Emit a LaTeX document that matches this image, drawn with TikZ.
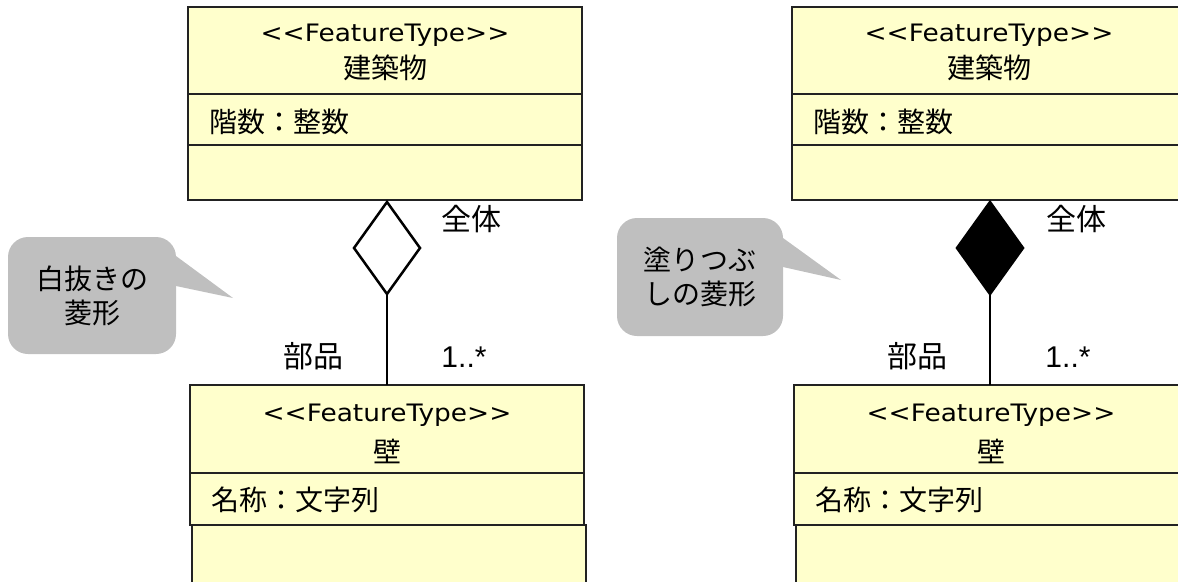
\documentclass[tikz,border=0pt]{standalone}
\usepackage{fontspec}
\setmainfont{DejaVu Sans}
\newfontfamily\jp{Noto Sans CJK JP}
\newfontfamily\lat[FakeStretch=1.1]{DejaVu Sans}
\newfontfamily\arial{Liberation Sans}
\usetikzlibrary{shapes.geometric}
\definecolor{boxfill}{RGB}{255,255,204}
\definecolor{boxline}{RGB}{34,34,34}
\definecolor{notegray}{RGB}{191,191,191}

\tikzset{
  every node/.style={inner sep=0pt, outer sep=0pt},
  comp/.style={draw=boxline, fill=boxfill, line width=2pt, anchor=north west, minimum width=394pt},
  stereo/.style={font=\lat\fontsize{24}{28}\selectfont},
  jptext/.style={font=\jp\fontsize{28}{34}\selectfont},
  roletext/.style={font=\jp\fontsize{30}{34}\selectfont},
  attrtext/.style={jptext, anchor=west},
  mult/.style={font=\arial\fontsize{30}{34}\selectfont},
  aggr/.style={diamond, draw=black, line width=2.5pt, minimum width=66pt, minimum height=92pt},
  assoc/.style={draw=black, line width=2.5pt},
  notebox/.style={fill=notegray, rounded corners=20pt, align=center, jptext},
}

\begin{document}
\begin{tikzpicture}[x=1pt, y=-1pt]
\useasboundingbox (0,0) rectangle (1178,581);
\clip (0,0) rectangle (1178,581);

% ---------- left: shared aggregation (hollow diamond) ----------
\node[comp, minimum height=87pt] (bA) at (188,7) {};
\node[comp, minimum height=51pt] (bAattr) at (bA.south west) {};
\node[comp, minimum height=55pt] (bAops) at (bAattr.south west) {};
\node[stereo] (bAst) at (385,35) {<<FeatureType>>};
\node[jptext] (bAnm) at (385,68) {建築物};
\node[attrtext] (bAat) at (209,122) {階数：整数};

\node[comp, minimum height=88pt] (wA) at (190,385) {};
\node[comp, minimum height=52pt] (wAattr) at (wA.south west) {};
\node[comp, minimum height=80pt] (wAops) at ([xshift=2pt]wAattr.south west) {};
\node[stereo] (wAst) at (387,415) {<<FeatureType>>};
\node[jptext] (wAnm) at (387,451) {壁};
\node[attrtext] (wAat) at (211,500) {名称：文字列};

\node[aggr, fill=white] (dA) at (387,248) {};
\draw[assoc] (dA.south) -- (dA.south |- wA.north);
\node[roletext] (wholeA) at (471,219) {全体};
\node[roletext] (partA) at (313,356) {部品};
\node[mult] (multA) at (464,357) {1..*};

\node[notebox, minimum width=168pt, minimum height=117pt] (noteA) at (92,295.5) {白抜きの\\菱形};
\coordinate (tipA) at (233,298);
\fill[notegray] ([yshift=9.5pt]noteA.east) ++(-6,0) -- ++(6,0) -- (tipA) -- ([yshift=39.5pt]noteA.east) -- ++(-6,0) -- cycle;

% ---------- right: composition (filled diamond) ----------
\node[comp, minimum height=87pt] (bB) at (792,7) {};
\node[comp, minimum height=51pt] (bBattr) at (bB.south west) {};
\node[comp, minimum height=55pt] (bBops) at (bBattr.south west) {};
\node[stereo] (bBst) at (989,35) {<<FeatureType>>};
\node[jptext] (bBnm) at (989,68) {建築物};
\node[attrtext] (bBat) at (813,122) {階数：整数};

\node[comp, minimum height=88pt] (wB) at (794,385) {};
\node[comp, minimum height=52pt] (wBattr) at (wB.south west) {};
\node[comp, minimum height=80pt] (wBops) at ([xshift=2pt]wBattr.south west) {};
\node[stereo] (wBst) at (991,415) {<<FeatureType>>};
\node[jptext] (wBnm) at (991,451) {壁};
\node[attrtext] (wBat) at (815,500) {名称：文字列};

\node[aggr, fill=black] (dB) at (990,248) {};
\draw[assoc] (dB.south) -- (dB.south |- wB.north);
\node[roletext] (wholeB) at (1076,219) {全体};
\node[roletext] (partB) at (917,356) {部品};
\node[mult] (multB) at (1068,357) {1..*};

\node[notebox, minimum width=166pt, minimum height=118pt] (noteB) at (700,277) {塗りつぶ\\しの菱形};
\coordinate (tipB) at (841,280);
\fill[notegray] ([yshift=10pt]noteB.east) ++(-6,0) -- ++(6,0) -- (tipB) -- ([yshift=39pt]noteB.east) -- ++(-6,0) -- cycle;
\end{tikzpicture}
\end{document}
